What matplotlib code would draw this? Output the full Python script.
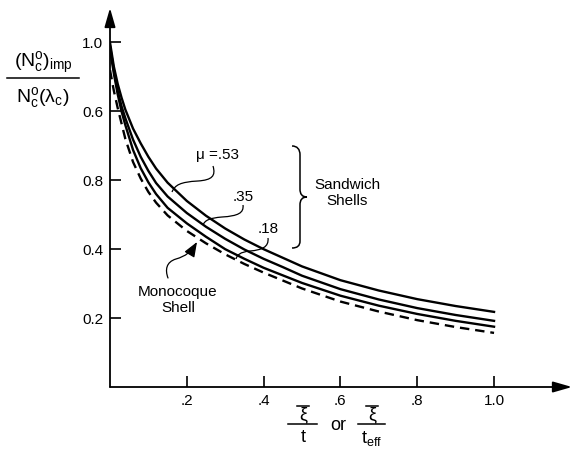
import matplotlib
matplotlib.use("Agg")
import matplotlib.pyplot as plt
from matplotlib.path import Path
from matplotlib.patches import PathPatch, FancyArrowPatch
from matplotlib.lines import Line2D
from matplotlib.transforms import Affine2D

plt.rcParams['font.family'] = ['Liberation Sans', 'DejaVu Sans']
plt.rcParams['mathtext.fontset'] = 'custom'
plt.rcParams['mathtext.rm'] = 'Liberation Sans'
plt.rcParams['mathtext.it'] = 'Liberation Sans:italic'

# abscissa: xi / t
x = [0.0, 0.01, 0.02, 0.03, 0.04, 0.06, 0.08, 0.1, 0.12, 0.15, 0.2, 0.25,
     0.3, 0.35, 0.4, 0.45, 0.5, 0.6, 0.7, 0.8, 0.9, 1.0]
# sandwich shells, mu = .53 / .35 / .18
y_053 = [1.0, 0.93, 0.88, 0.84, 0.805, 0.75, 0.707, 0.668, 0.634, 0.593, 0.54, 0.497,
         0.46, 0.428, 0.40, 0.375, 0.35, 0.31, 0.28, 0.255, 0.235, 0.218]
y_035 = [0.99, 0.92, 0.86, 0.815, 0.78, 0.718, 0.668, 0.627, 0.592, 0.553, 0.505, 0.465,
         0.43, 0.399, 0.372, 0.348, 0.323, 0.284, 0.254, 0.229, 0.209, 0.192]
y_018 = [0.98, 0.91, 0.85, 0.80, 0.76, 0.688, 0.635, 0.594, 0.56, 0.52, 0.475, 0.436,
         0.40, 0.372, 0.346, 0.324, 0.302, 0.265, 0.236, 0.212, 0.192, 0.175]
# monocoque shell (dashed)
y_mono = [0.92, 0.86, 0.81, 0.765, 0.72, 0.653, 0.605, 0.566, 0.535, 0.498, 0.453, 0.417,
          0.385, 0.357, 0.332, 0.309, 0.286, 0.248, 0.219, 0.194, 0.174, 0.157]

xticks = [0.2, 0.4, 0.6, 0.8, 1.0]
xtick_labels = ['.2', '.4', '.6', '.8', '1.0']
yticks = [0.2, 0.4, 0.6, 0.8, 1.0]
ytick_labels = ['0.2', '0.4', '0.8', '0.6', '1.0']

W, H = 573, 468
fig = plt.figure(figsize=(W / 100, H / 100), dpi=100)
ax = fig.add_axes([110 / W, (H - 387) / H, (572 - 110) / W, (387 - 8) / H])
ax.set_xlim(0, 1.203)
ax.set_ylim(0, 1.10)
for s in ax.spines.values():
    s.set_visible(False)

# axes with arrow heads
arr = dict(arrowstyle='-|>,head_length=1.15,head_width=0.33', lw=1.3, color='k',
           mutation_scale=10, shrinkA=0, shrinkB=0)
ax.annotate('', xy=(1, 0), xytext=(0, 0), xycoords='axes fraction', arrowprops=arr)
ax.annotate('', xy=(0, 1), xytext=(0, 0), xycoords='axes fraction', arrowprops=arr)

lw = 1.7
ax.plot(x, y_053, color='k', lw=lw)
ax.plot(x, y_035, color='k', lw=lw)
ax.plot(x, y_018, color='k', lw=lw)
ax.plot(x, y_mono, color='k', lw=lw, linestyle=(0, (4, 2.5)))

ax.set_xticks(xticks, xtick_labels)
ax.set_yticks(yticks, ytick_labels)
ax.tick_params(direction='in', length=8, width=1.2, pad=5, labelsize=11, colors='k')

# pixel (top-left origin) -> figure transform, for annotations
pix = Affine2D().scale(1 / W, -1 / H).translate(0, 1) + fig.transFigure


def ftext(px, py, s, **kw):
    fig.text(px / W, 1 - py / H, s, ha='center', va='center', **kw)


C4 = Path.CURVE4
L2 = Path.LINETO
M = Path.MOVETO

# y label as fraction
ftext(43, 63, r'$(\mathrm{N_c^o})_{\mathrm{imp}}$', fontsize=14)
ftext(43, 97, r'$\mathrm{N_c^o(λ_c)}$', fontsize=14)
fig.add_artist(Line2D([7 / W, 79 / W], [1 - 78 / H, 1 - 78 / H], color='k', lw=1.1))

# x label: xi/t or xi/t_eff
ftext(303, 415, 'ξ', fontsize=13)
ftext(303, 437, 't', fontsize=13)
ftext(338, 426, 'or', fontsize=13)
ftext(372, 415, 'ξ', fontsize=13)
ftext(372, 439, r'$\mathrm{t_{eff}}$', fontsize=13)
for x0, x1 in [(288, 317), (358, 385)]:
    fig.add_artist(Line2D([x0 / W, x1 / W], [1 - 424 / H] * 2, color='k', lw=1.1))
for x0, x1 in [(297, 309), (366, 378)]:
    fig.add_artist(Line2D([x0 / W, x1 / W], [1 - 406 / H] * 2, color='k', lw=1.1))

# curve labels and leaders
ftext(218, 155, 'μ =.53', fontsize=11)
ftext(243, 197, '.35', fontsize=11)
ftext(268, 229, '.18', fontsize=11)

leaders = [
    [(213, 166), (216, 176), (212, 180), (198, 181), (180, 182), (175, 185), (172, 192)],
    [(243, 205), (244, 213), (238, 216), (222, 217), (210, 218), (205, 220), (203, 225)],
    [(268, 238), (269, 247), (262, 250), (250, 251), (240, 252), (237, 255), (236, 259)],
]
for pts in leaders:
    p = Path(pts, [M, C4, C4, C4, C4, C4, C4])
    fig.add_artist(PathPatch(p, fill=False, lw=0.9, color='k', transform=pix))

# brace for the sandwich shells
brace = Path([(292, 146), (297, 146), (300, 149), (300, 155), (300, 189),
              (300, 194), (302, 197), (307, 197), (302, 197), (300, 200), (300, 205),
              (300, 241), (300, 246), (297, 248), (292, 248)],
             [M, C4, C4, C4, L2, C4, C4, C4, C4, C4, C4, L2, C4, C4, C4])
fig.add_artist(PathPatch(brace, fill=False, lw=1.1, color='k', transform=pix))
ftext(347, 193, 'Sandwich\nShells', fontsize=11, linespacing=1.15)

# monocoque label with curly arrow
ftext(178, 300, 'Monocoque\nShell', fontsize=11, linespacing=1.1)
mono_path = Path([(168, 278), (165, 270), (166, 262), (176, 259),
                  (186, 256), (191, 252), (197, 242)], [M, C4, C4, C4, C4, C4, C4])
fig.add_artist(FancyArrowPatch(path=mono_path, arrowstyle='-|>,head_length=0.9,head_width=0.35',
                               mutation_scale=10, lw=0.9, color='k', transform=pix))

fig.savefig('out.png', dpi=100)
